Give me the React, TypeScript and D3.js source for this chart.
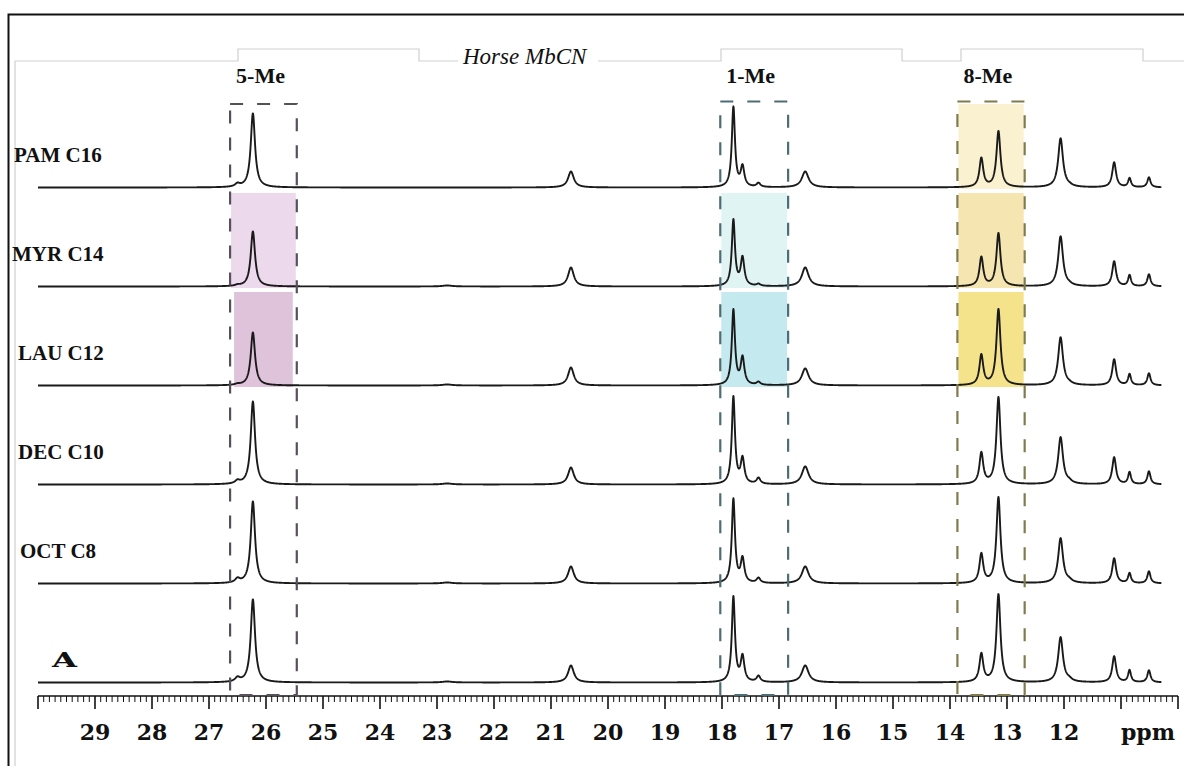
import React from 'react';
import * as d3 from 'd3';

// ---- data ----
const sampleLabels = ['PAM C16', 'MYR C14', 'LAU C12', 'DEC C10', 'OCT C8', 'A'];
const peakPpm = [26.5, 26.23, 22.82, 20.65, 17.8, 17.64, 17.36, 16.54, 13.45, 13.15, 12.06, 11.91, 11.12, 10.85, 10.51];
const peakHwhm = [0.05, 0.045, 0.1, 0.06, 0.033, 0.038, 0.04, 0.07, 0.04, 0.042, 0.05, 0.06, 0.04, 0.03, 0.033];
const pamC16 = [3, 74, 0, 16, 80, 20, 4, 16, 29, 56, 49, 1, 25, 9, 10];
const myrC14 = [1, 55, 1, 19, 66, 28, 2, 19, 29, 53, 50, 1, 25, 11, 12];
const lauC12 = [1, 53, 1, 18, 75, 27, 3, 17, 30, 76, 48, 1, 26, 11, 12];
const decC10 = [3, 83, 1, 17, 87, 25, 6, 18, 31, 87, 47, 2, 27, 12, 13];
const octC8 = [4, 82, 1, 17, 84, 24, 5, 17, 29, 86, 45, 2, 25, 10, 12];
const spectrumA = [4, 83, 1, 17, 85, 25, 6, 17, 28, 88, 45, 2, 26, 12, 12];
const spectra = [pamC16, myrC14, lauC12, decC10, octC8, spectrumA];

const regionNames = ['5-Me', '1-Me', '8-Me'];
const regionFrom = [26.63, 18.03, 13.87];
const regionTo = [25.46, 16.84, 12.69];
const regionStroke = ['#55505a', '#4e6c74', '#7f7b4c'];
const regionFills = [
  [null, '#edd9ec', '#dfc3db'],
  [null, '#e0f4f3', '#c4e9ef'],
  ['#f9f1d0', '#f4e5b1', '#f5e38b'],
];

const majorTicks = d3.range(29, 11.5, -1);
const title = 'Horse MbCN';
const unitLabel = 'ppm';

// ---- scales ----
const x = d3.scaleLinear().domain([30, 10]).range([38, 1178]);
const rowY = d3.scaleLinear().domain([0, 5]).range([187.5, 682.5]);
const h = d3.scaleLinear().domain([0, 100]).range([0, 100]);
const axisY = 696;

const samplePpm = d3.range(30, 10.29, -0.004);

function intensity(vals: number[], p: number) {
  let s = 0;
  for (let k = 0; k < peakPpm.length; k++) {
    const u = (p - peakPpm[k]) / peakHwhm[k];
    s += vals[k] / (1 + u * u);
  }
  return s;
}

export default function App() {
  const serif = '"Liberation Serif", "Times New Roman", serif';
  const wide = '"DejaVu Serif", serif';
  const paths = spectra.map((vals, i) => {
    const line = d3
      .line<number>()
      .x((p) => x(p))
      .y((p) => rowY(i) - h(intensity(vals, p)));
    return line(samplePpm) as string;
  });
  const minor = d3.range(300, 99, -1).map((v) => v / 10);

  return (
    <svg
      width={1184}
      height={766}
      style={{ position: 'fixed', left: 0, top: 0, background: '#fff' }}
    >
      <rect x={0} y={0} width={1184} height={766} fill="#fff" />
      {/* frame */}
      <path d="M8.5,766 V14.5 H1184" fill="none" stroke="#111" strokeWidth={2} />
      <path
        d="M15,766 V61 H238 V49 H419 V61 H458 M598,61 H721 V49 H902 V61 H961 V49 H1143 V61 H1184"
        fill="none"
        stroke="#cfcfcf"
        strokeWidth={1.2}
      />
      <text x={463} y={64} fontFamily={serif} fontStyle="italic" fontSize={23} fill="#111">
        {title}
      </text>

      {/* highlighted cells */}
      {regionFills.map((fills, r) =>
        fills.map((c, i) => {
          if (!c) return null;
          const inset = r === 0 && i === 2 ? 4 : 1;
          const top = i === 0 ? 104 : rowY(i - 1) + 5.5;
          const bottom = rowY(i) + 1.5;
          return (
            <rect
              key={`f${r}-${i}`}
              x={x(regionFrom[r]) + inset}
              y={top}
              width={x(regionTo[r]) - x(regionFrom[r]) - 2 * inset}
              height={bottom - top}
              fill={c}
            />
          );
        })
      )}

      {/* axis */}
      <line x1={x(30)} x2={x(10)} y1={axisY} y2={axisY} stroke="#111" strokeWidth={1.6} />
      {minor.map((v) => {
        const major = Math.abs(v - Math.round(v)) < 1e-6;
        return (
          <line
            key={`t${v}`}
            x1={x(v)}
            x2={x(v)}
            y1={axisY}
            y2={axisY + (major ? 13 : 6)}
            stroke="#111"
            strokeWidth={major ? 1.6 : 1}
          />
        );
      })}
      {majorTicks.map((v) => (
        <text
          key={`l${v}`}
          x={x(v)}
          y={740}
          textAnchor="middle"
          fontFamily={wide}
          fontWeight="bold"
          fontSize={22}
          fill="#111"
        >
          {v}
        </text>
      ))}
      <text x={1148} y={740} textAnchor="middle" fontFamily={wide} fontWeight="bold" fontSize={22} fill="#111">
        {unitLabel}
      </text>

      {/* spectra */}
      {paths.map((d, i) => (
        <path key={`s${i}`} d={d} fill="none" stroke="#1a1a1a" strokeWidth={1.9} strokeLinejoin="round" />
      ))}

      {/* dashed region boxes */}
      {regionNames.map((n, r) => {
        const x0 = x(regionFrom[r]);
        const x1 = x(regionTo[r]);
        const top = r === 0 ? 104 : 101.5;
        return (
          <g key={`b${r}`}>
            <path
              d={`M${x0},${top} H${x1} V${axisY - 1} H${x0} Z`}
              fill="none"
              stroke={regionStroke[r]}
              strokeWidth={2.2}
              strokeDasharray="13,14"
            />
            <text x={x0 + 6} y={83} fontFamily={serif} fontWeight="bold" fontSize={22} fill="#111">
              {n}
            </text>
          </g>
        );
      })}

      {/* sample labels */}
      {sampleLabels.map((s, i) =>
        i < 5 ? (
          <text
            key={`n${i}`}
            x={i === 1 ? 12 : i === 0 ? 14 : i === 4 ? 20 : 18}
            y={rowY(i) - 25.5}
            fontFamily={serif}
            fontWeight="bold"
            fontSize={21}
            fill="#111"
          >
            {s}
          </text>
        ) : (
          <text
            key={`n${i}`}
            x={52}
            y={667}
            fontFamily={wide}
            fontWeight="bold"
            fontSize={20}
            textLength={25}
            lengthAdjust="spacingAndGlyphs"
            fill="#111"
          >
            {s}
          </text>
        )
      )}
    </svg>
  );
}
